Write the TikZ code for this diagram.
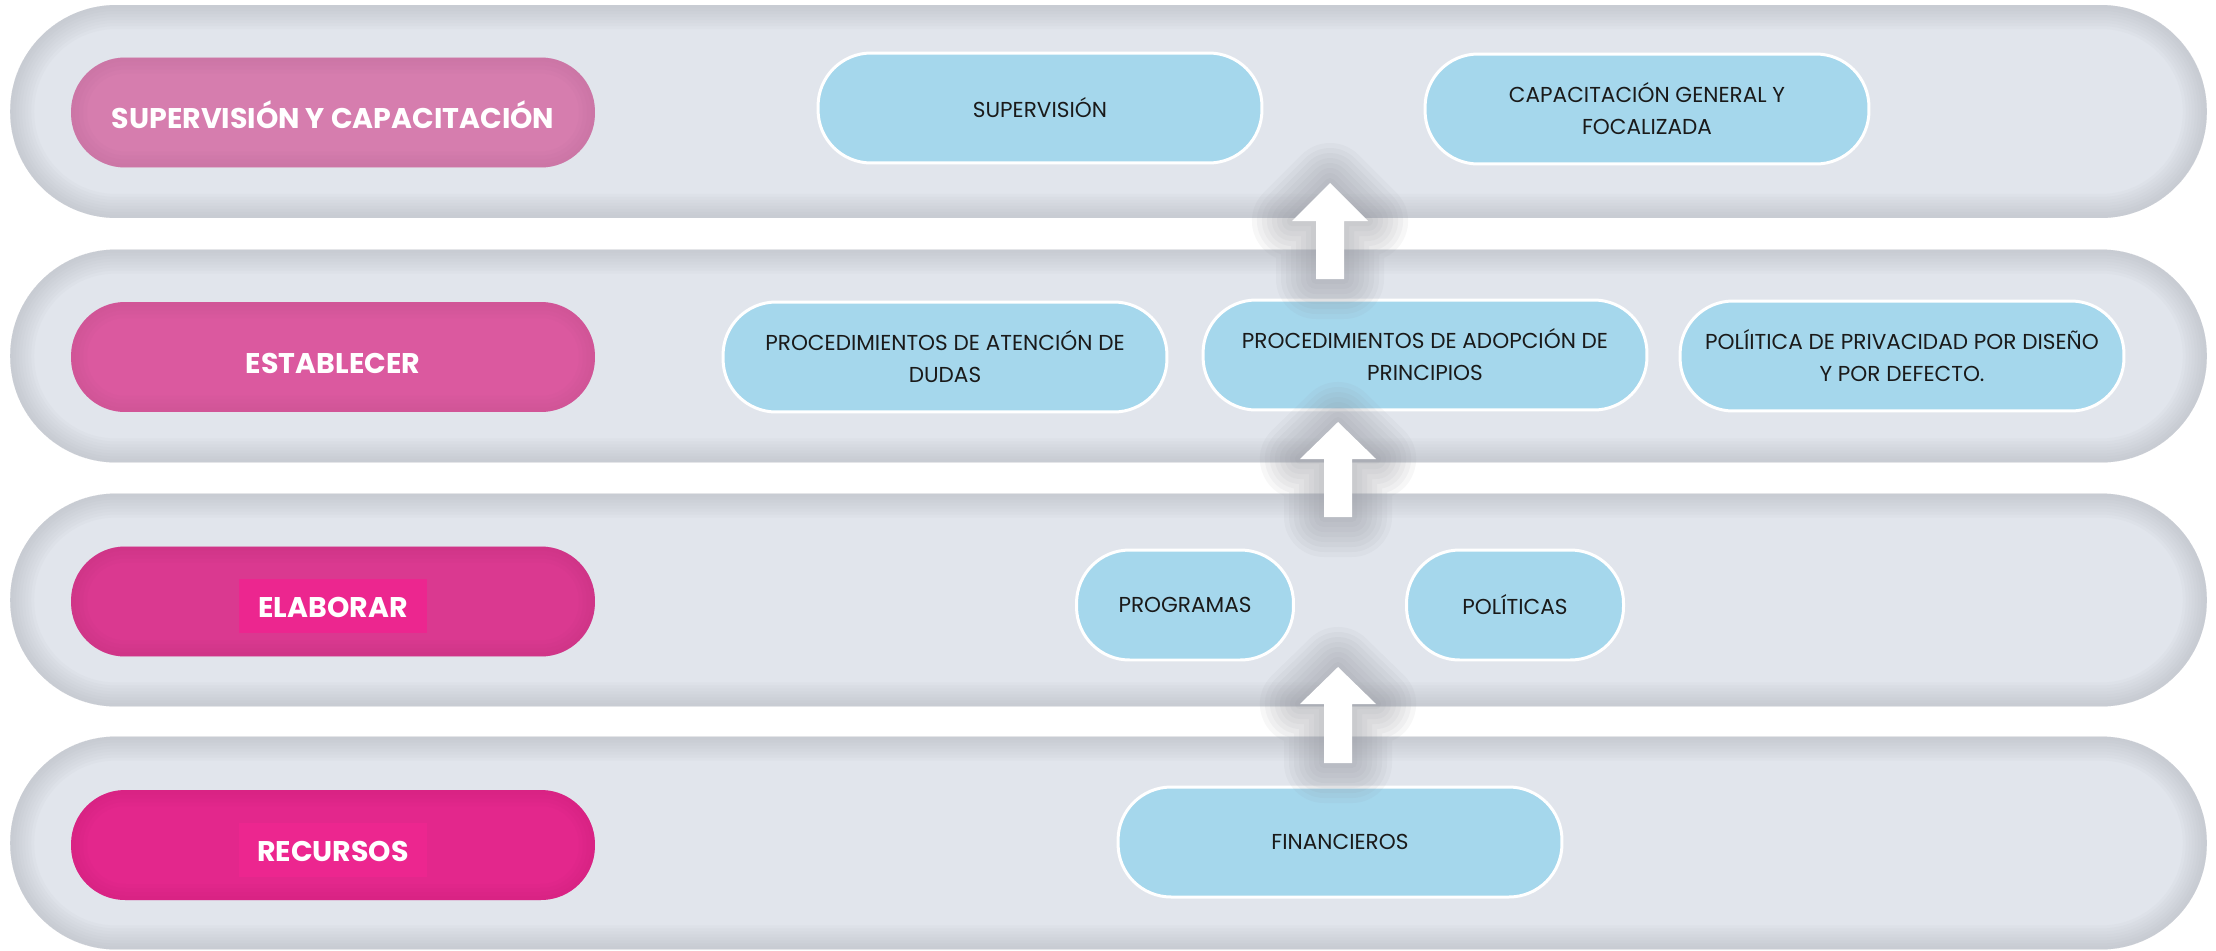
\documentclass[tikz,border=0pt]{standalone}
\usepackage{fontspec}
\setmainfont{Poppins}
\usetikzlibrary{positioning}

\definecolor{bandgray}{HTML}{E1E5EC}
\definecolor{bandedge}{HTML}{A9ACB3}
\definecolor{glowgray}{HTML}{8E9098}
\definecolor{boxblue}{HTML}{A5D7EC}
\definecolor{textdark}{HTML}{1A1A1A}
\definecolor{pinkA}{HTML}{D67DAE}
\definecolor{pinkB}{HTML}{DB599F}
\definecolor{pinkC}{HTML}{DA3990}
\definecolor{pinkD}{HTML}{E3278C}
\definecolor{tagpink}{HTML}{EC268F}

\tikzset{
	band/.style={rectangle, inner sep=0pt, minimum width=43.94cm, minimum height=4.26cm,
		rounded corners=2.12cm, fill=bandgray,
		path picture={\foreach \w in {6,12,...,48}
			\draw[bandedge, opacity=0.06, line width=\w*0.02cm, rounded corners=2.12cm]
			(path picture bounding box.south west) rectangle (path picture bounding box.north east);}},
	pill/.style={rectangle, inner sep=0pt, minimum width=10.48cm, minimum height=2.2cm,
		rounded corners=1.08cm, fill=#1,
		path picture={\foreach \w in {8,16,24,32}
			\draw[#1!85!black, opacity=0.07, line width=\w*0.02cm, rounded corners=1.08cm]
			(path picture bounding box.south west) rectangle (path picture bounding box.north east);}},
	tag/.style={rectangle, inner sep=0pt, fill=tagpink, minimum width=3.76cm, minimum height=1.08cm},
	labeltxt/.style={inner sep=0pt, text=white, text height=11.4pt, text depth=0pt,
		font=\fontsize{16.2}{18}\selectfont\bfseries},
	box/.style={rectangle, inner sep=0pt, minimum width=8.88cm, minimum height=2.2cm,
		rounded corners=1.06cm, fill=boxblue, draw=white, line width=0.06cm,
		align=center, text=textdark, font=\fontsize{12.3}{18.2}\selectfont},
	smallbox/.style={box, minimum width=4.34cm},
}

\begin{document}
\begin{tikzpicture}[x=0.02cm, y=-0.02cm]

	\fill[white] (0,0) rectangle (2216,950);
	\useasboundingbox (0,0) rectangle (2216,950);

	% bands
	\node[band] (band1) at (1108.5,111.5) {};
	\node[band] (band2) at (1108.5,356) {};
	\node[band] (band3) at (1108.5,600) {};
	\node[band] (band4) at (1108.5,843) {};

	% left labels
	\node[pill=pinkA] (lsup) at (333,112.5) {};
	\node[labeltxt] (tsup) at (333,118) {SUPERVISIÓN Y CAPACITACIÓN};

	\node[pill=pinkB] (lest) at (333,357) {};
	\node[labeltxt] (test) at (333,363) {ESTABLECER};

	\node[pill=pinkC] (lela) at (333,601.5) {};
	\node[tag] (rela) at (333,606) {};
	\node[labeltxt] (tela) at (333,607) {ELABORAR};

	\node[pill=pinkD] (lrec) at (333,845) {};
	\node[tag] (rrec) at (333,850) {};
	\node[labeltxt] (trec) at (333,851) {RECURSOS};

	% boxes
	\node[box] (sup) at (1040,108) {SUPERVISIÓN};
	\node[box] (cap) at (1647,109) {CAPACITACIÓN GENERAL Y\\FOCALIZADA};

	\node[box] (aten) at (945,357) {PROCEDIMIENTOS DE ATENCIÓN DE\\DUDAS};
	\node[box] (adop) at (1425,355) {PROCEDIMIENTOS DE ADOPCIÓN DE\\PRINCIPIOS};
	\node[box] (pol) at (1902,356) {POLÍITICA DE PRIVACIDAD POR DISEÑO\\Y POR DEFECTO.};

	\node[smallbox] (prog) at (1185,605) {PROGRAMAS};
	\node[smallbox] (polit) at (1515,605) {POLÍTICAS};

	\node[box] (fin) at (1340,842) {FINANCIEROS};

	% arrows
	\foreach \x/\t/\b/\e in {1330/183/221/279, 1338/422/459/517, 1338/667/704/763} {
		\foreach \w in {10,20,...,80}
			\draw[glowgray, opacity=0.07, line width=\w*0.02cm, line join=round]
			(\x-14,\e) -- (\x-14,\b) -- (\x-38,\b) -- (\x,\t) -- (\x+38,\b) -- (\x+14,\b) -- (\x+14,\e) -- cycle;
		\fill[white] (\x-14,\e) -- (\x-14,\b) -- (\x-38,\b) -- (\x,\t) -- (\x+38,\b) -- (\x+14,\b) -- (\x+14,\e) -- cycle;
	}

\end{tikzpicture}
\end{document}
